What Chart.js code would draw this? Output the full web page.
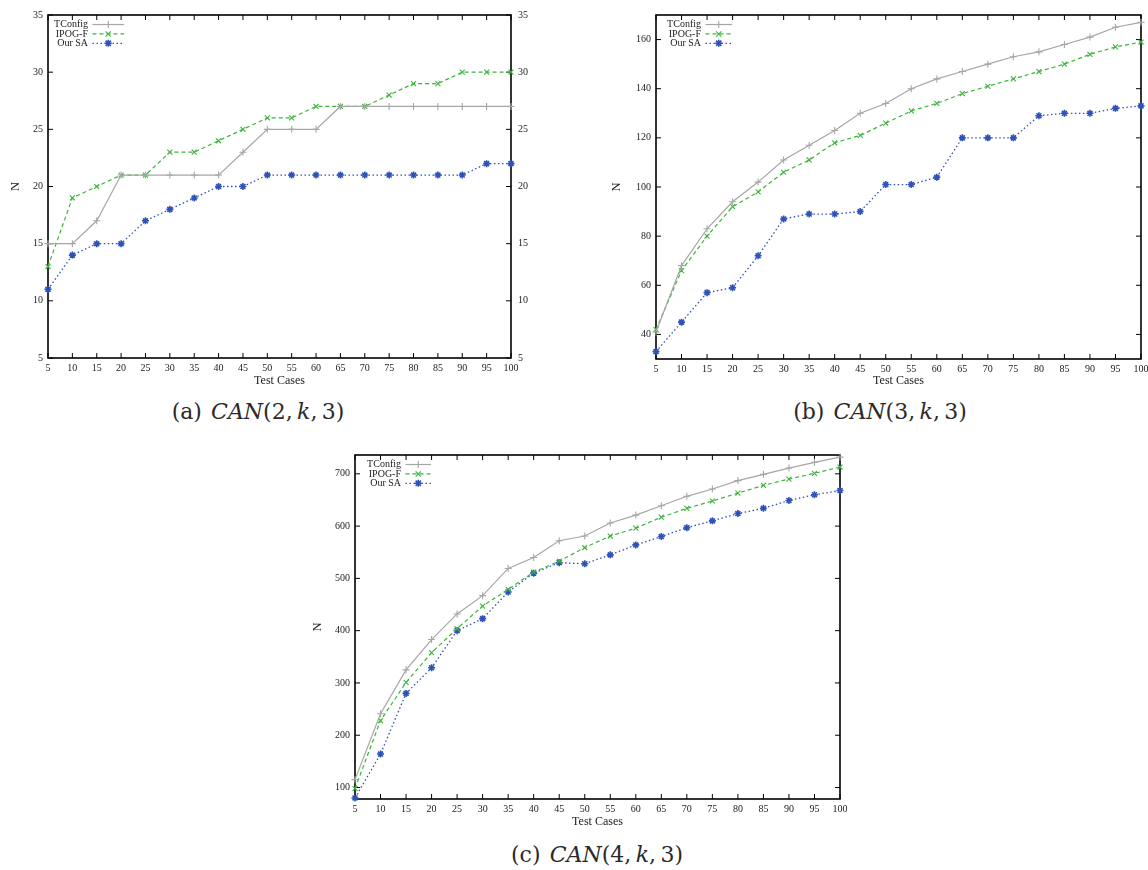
<!DOCTYPE html>
<html><head><meta charset="utf-8">
<script src="https://cdn.jsdelivr.net/npm/chart.js@4.4.1/dist/chart.umd.min.js"></script>
<style>
html,body{margin:0;padding:0;background:#fff;overflow:hidden;width:1148px;height:870px}
.box{position:absolute}
.cap{position:absolute;font-family:"DejaVu Serif",serif;font-size:22px;color:#2a2a2a;white-space:nowrap;transform:translateX(-50%);line-height:26px}
.cap i{font-style:italic}
</style></head><body>
<div class="box" style="left:0;top:0"><canvas id="ca" width="541" height="390"></canvas></div>
<div class="box" style="left:600px;top:0"><canvas id="cb" width="548" height="390"></canvas></div>
<div class="box" style="left:300px;top:440px"><canvas id="cc" width="547" height="391"></canvas></div>
<div class="cap" style="left:258px;top:399px">(a)&#8202; <i>CAN</i>(2,&#8201;<i>k</i>,&#8201;3)</div>
<div class="cap" style="left:880px;top:399px">(b)&#8202; <i>CAN</i>(3,&#8201;<i>k</i>,&#8201;3)</div>
<div class="cap" style="left:597px;top:842px">(c)&#8202; <i>CAN</i>(4,&#8201;<i>k</i>,&#8201;3)</div>
<script>
// ---- data ----
const xLabels = ['5','10','15','20','25','30','35','40','45','50','55','60','65','70','75','80','85','90','95','100'];
const seriesNames = ['TConfig','IPOG-F','Our SA'];

const yTicksA = [5,10,15,20,25,30,35];
const tconfigA = [15,15,17,21,21,21,21,21,23,25,25,25,27,27,27,27,27,27,27,27];
const ipogA    = [13,19,20,21,21,23,23,24,25,26,26,27,27,27,28,29,29,30,30,30];
const ourSaA   = [11,14,15,15,17,18,19,20,20,21,21,21,21,21,21,21,21,21,22,22];

const yTicksB = [40,60,80,100,120,140,160];
const tconfigB = [41,68,83,94,102,111,117,123,130,134,140,144,147,150,153,155,158,161,165,167];
const ipogB    = [42,66,80,92,98,106,111,118,121,126,131,134,138,141,144,147,150,154,157,159];
const ourSaB   = [33,45,57,59,72,87,89,89,90,101,101,104,120,120,120,129,130,130,132,133];

const yTicksC = [100,200,300,400,500,600,700];
const tconfigC = [115,241,325,383,432,467,519,540,572,581,606,621,639,657,671,687,699,711,722,732];
const ipogC    = [98,228,301,358,404,447,479,512,533,559,581,596,617,634,648,663,678,690,701,713];
const ourSaC   = [80,164,280,329,400,423,474,510,530,528,545,564,580,597,610,624,634,649,660,668];

// ---- styles ----
const styles = [
  {color:'#a6a6a6', dash:[], point:'cross', width:1.2},
  {color:'#3cb43c', dash:[4,3], point:'crossRot', width:1.2},
  {color:'#2f52b8', dash:[1.5,2.5], point:'star', width:1.3}
];
const serif = '"Liberation Serif","Times New Roman",serif';

function drawMarker(ctx, style, x, y, r){
  ctx.beginPath();
  if(style==='cross'||style==='star'){ctx.moveTo(x-r,y);ctx.lineTo(x+r,y);ctx.moveTo(x,y-r);ctx.lineTo(x,y+r);}
  if(style==='crossRot'||style==='star'){const d=r*0.75;ctx.moveTo(x-d,y-d);ctx.lineTo(x+d,y+d);ctx.moveTo(x-d,y+d);ctx.lineTo(x+d,y-d);}
  ctx.stroke();
}

const framePlugin = {
  id:'frame',
  beforeDatasetsDraw(chart){
    const {ctx, chartArea:a, scales} = chart;
    ctx.save();
    ctx.strokeStyle='#000'; ctx.lineWidth=1; ctx.setLineDash([]);
    const L=5;
    const line=(x1,y1,x2,y2)=>{ctx.beginPath();ctx.moveTo(x1,y1);ctx.lineTo(x2,y2);ctx.stroke();};
    scales.x.ticks.forEach((t,i)=>{const p=scales.x.getPixelForTick(i); line(p,a.bottom,p,a.bottom-L); line(p,a.top,p,a.top+L);});
    scales.y.ticks.forEach((t,i)=>{const p=scales.y.getPixelForTick(i); line(a.left,p,a.left+L,p); line(a.right,p,a.right-L,p);});
    ctx.lineWidth=1.6;
    ctx.strokeRect(a.left,a.top,a.right-a.left,a.bottom-a.top);
    ctx.restore();
  },
  afterDatasetsDraw(chart){
    const {ctx, chartArea:a} = chart;
    const lg = chart.options.plugins.frame || {};
    ctx.save();
    ctx.font = '10px '+serif;
    ctx.textAlign='right'; ctx.textBaseline='middle'; ctx.fillStyle='#222';
    chart.data.datasets.forEach((ds,i)=>{
      const y = a.top + 9.5 + i*9.4;
      const tx = a.left + lg.textRight;
      ctx.fillText(ds.label, tx, y);
      ctx.strokeStyle = ds.borderColor; ctx.lineWidth = ds.borderWidth;
      ctx.setLineDash(ds.borderDash);
      ctx.beginPath(); ctx.moveTo(tx+4.5, y); ctx.lineTo(a.left+lg.lineEnd, y); ctx.stroke();
      ctx.setLineDash([]);
      ctx.lineWidth = ds.pointBorderWidth;
      drawMarker(ctx, ds.pointStyle, (tx+4.5+a.left+lg.lineEnd)/2, y, 3.5);
    });
    ctx.restore();
  }
};

function makeChart(id, p){
  const arrays=[p.t,p.i,p.o];
  const datasets = arrays.map((arr,k)=>({
    label: seriesNames[k], data: arr,
    borderColor: styles[k].color, backgroundColor: styles[k].color,
    borderWidth: styles[k].width, borderDash: styles[k].dash,
    pointStyle: styles[k].point, pointRadius: 3.5, pointBorderWidth: k===2 ? 1.6 : 1.1,
    pointBorderColor: styles[k].color, pointBackgroundColor: styles[k].color,
    tension: 0, clip: false, fill: false
  }));
  const tickFont = {family: serif, size: 10};
  const setTicks = s => { s.ticks = p.yTicks.map(v=>({value:v})); };
  const scales = {
    x: {type:'category', offset:false,
        grid:{display:false, drawTicks:false}, border:{display:false},
        ticks:{autoSkip:false, maxRotation:0, minRotation:0, padding:4, font:tickFont, color:'#222'},
        title:{display:true, text:'Test Cases', font:{family:serif, size:12}, color:'#222', padding:{top:0,bottom:2}},
        afterFit: s=>{ s.height=p.xH; s.paddingLeft=0; s.paddingRight=0; }},
    y: {type:'linear', position:'left', min:p.min, max:p.max, afterBuildTicks:setTicks,
        grid:{display:false, drawTicks:false}, border:{display:false},
        ticks:{padding:5, font:tickFont, color:'#222'},
        title:{display:true, text:'N', font:{family:serif, size:12.5}, color:'#222', padding:{top:p.nPad, bottom:0}},
        afterFit: s=>{ s.width=p.leftW; }}
  };
  if(p.right){
    scales.y2 = {type:'linear', position:'right', min:p.min, max:p.max, afterBuildTicks:setTicks,
        grid:{display:false, drawTicks:false}, border:{display:false},
        ticks:{padding:7, font:tickFont, color:'#222'},
        afterFit: s=>{ s.width=30; }};
  }
  return new Chart(document.getElementById(id), {
    type:'line',
    data:{labels:xLabels, datasets},
    options:{
      responsive:false, animation:false, devicePixelRatio:1,
      layout:{padding:{top:15, right:p.padR, left:0, bottom:0}},
      plugins:{legend:{display:false}, tooltip:{enabled:false},
               frame:{textRight:p.textRight, lineEnd:76}},
      scales
    },
    plugins:[framePlugin]
  });
}

makeChart('ca', {t:tconfigA, i:ipogA, o:ourSaA, yTicks:yTicksA, min:5, max:35,
  leftW:48, xH:32, padR:0, right:true, nPad:8, textRight:40});
makeChart('cb', {t:tconfigB, i:ipogB, o:ourSaB, yTicks:yTicksB, min:30, max:170,
  leftW:56, xH:31, padR:7, right:false, nPad:9, textRight:45});
makeChart('cc', {t:tconfigC, i:ipogC, o:ourSaC, yTicks:yTicksC, min:78, max:736,
  leftW:55, xH:32, padR:7, right:false, nPad:10, textRight:46});
</script>
</body></html>
